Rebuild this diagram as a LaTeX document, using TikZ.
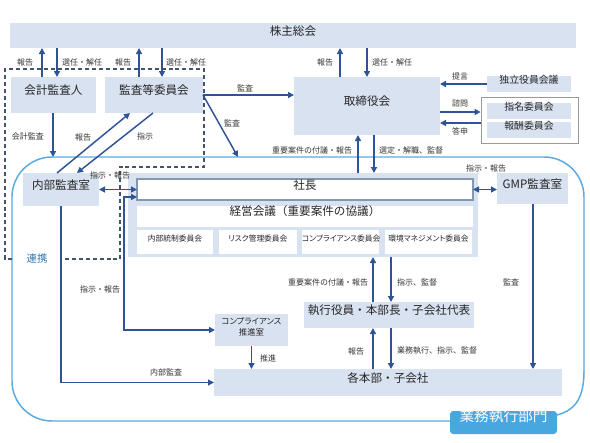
\documentclass[tikz,border=0pt]{standalone}
\usepackage{fontspec}
\setmainfont{Noto Sans CJK JP}
\newfontfamily\kana[RawFeature=+palt]{Noto Sans CJK JP}
\usetikzlibrary{arrows.meta,calc,fit}
\definecolor{boxfill}{HTML}{D9E2F1}
\definecolor{arrowc}{HTML}{2F5496}
\definecolor{txt}{HTML}{262626}
\definecolor{labc}{HTML}{333333}
\definecolor{skyline}{HTML}{5AAAE0}
\definecolor{skylabel}{HTML}{48A7DE}
\definecolor{dashc}{HTML}{44546A}
\definecolor{shachoborder}{HTML}{8497B0}
\definecolor{renkei}{HTML}{2E75B6}
\begin{document}
\begin{tikzpicture}[x=0.75pt,y=-0.75pt,
 box/.style={fill=boxfill,inner sep=0pt,outer sep=0pt,text=txt,font=\fontsize{8.7}{10}\selectfont},
 wbox/.style={box,fill=white},
 cbox/.style={box,fill=white,font=\kana\fontsize{5.8}{6.5}\selectfont},
 lab/.style={inner sep=0pt,text=labc,font=\fontsize{6}{7}\selectfont},
 tip/.tip={Triangle[length=4.5pt,width=4.5pt]},
 arr/.style={draw=arrowc,line width=1.1pt,-tip},
 darr/.style={draw=arrowc,line width=1.1pt,tip-tip},
]
\path[use as bounding box] (0,0) rectangle (590,443);

% execution department outline
\draw[skyline,line width=1.1pt,rounded corners=30pt] (450,421) -- (12,421) -- (12,157) -- (584,157) -- (584,372);
\draw[skyline,line width=1.1pt] (584,371) .. controls (584,402) and (572,411) .. (557,415);

% dashed audit group
\draw[dashc,line width=0.9pt,dash pattern=on 3pt off 2.2pt] (12,259) -- (5,259) -- (5,69) -- (204,69) -- (204,167) -- (120,167) -- (120,259) -- (63,259);
\node[inner sep=0pt,text=renkei,font=\fontsize{7.8}{9}\selectfont] (renkeil) at (37,259) {連携};

% boxes
\node[box,fit={(10,23) (576,48)}] (kabu) {株主総会};
\node[box,fit={(11,77) (96,113)}] (kaikei) {会計監査人};
\node[box,fit={(105,77) (203,113)}] (kansa) {監査等委員会};
\node[box,fit={(294,77) (440,135)}] (tori) {取締役会};
\node[box,fit={(487,76) (571,92)},font=\fontsize{7.4}{8.5}\selectfont] (dokuritsu) {独立役員会議};
\node[draw=gray!80,line width=0.6pt,fill=white,inner sep=0pt,fit={(481,97) (578,143)}] (nomout) {};
\node[box,fit={(487,103) (571,119)},font=\fontsize{7.4}{8.5}\selectfont] (shimei) {指名委員会};
\node[box,fit={(487,122) (571,138)},font=\fontsize{7.4}{8.5}\selectfont] (hoshu) {報酬委員会};
\node[box,fit={(23,173) (99,206)}] (naibu) {内部監査室};
\node[box,fit={(128,173) (478,257)}] (region) {};
\node[wbox,draw=shachoborder,line width=0.8pt,fit={(137,179) (473,200)}] (shacho) {社長};
\node[wbox,fit={(137,206) (473,227)}] (keiei) {経営会議（重要案件の協議）};
\node[cbox,fit={(137,230) (213,254)}] (iinA) {内部統制委員会};
\node[cbox,fit={(219,230) (297,254)}] (iinB) {リスク管理委員会};
\node[cbox,fit={(302,230) (379,254)}] (iinC) {コンプライアンス委員会};
\node[cbox,fit={(385,230) (472,254)}] (iinD) {環境マネジメント委員会};
\node[box,fit={(497,173) (568,204)}] (gmp) {GMP監査室};
\node[box,fit={(215,314) (288,346)},align=center,font=\kana\fontsize{6.3}{8.2}\selectfont] (compl) {コンプライアンス\\推進室};
\node[box,fit={(304,302) (474,328)}] (shikko) {執行役員・本部長・子会社代表};
\node[box,fit={(214,369) (562,396)}] (honbu) {各本部・子会社};
\node[fit={(450,411) (557,434)},fill=skylabel,rounded corners=2.5pt,inner sep=0pt,text=white,font=\fontsize{11}{12}\selectfont] (gyomu) {業務執行部門};

% helper coordinates
\coordinate (X42) at (42,0);
\coordinate (X57) at (57,0);
\coordinate (X139) at (139,0);
\coordinate (X162) at (162,0);
\coordinate (X340) at (340,0);
\coordinate (X367) at (367,0);
\coordinate (X53) at (53,0);
\coordinate (X358) at (358,0);
\coordinate (X374) at (374,0);
\coordinate (X373) at (373,0);
\coordinate (X391) at (391,0);
\coordinate (X533) at (533,0);
\coordinate (X61) at (61,0);
\coordinate (Y112) at (0,112);
\coordinate (Y123) at (0,123);
\coordinate (gtopA) at (53,157);
\coordinate (gtopB) at (238,157);
\coordinate (p1) at (124,197);
\coordinate (p2) at (124,330);

% connectors
\draw[arr] (kaikei.north -| X42) -- (kabu.south -| X42);
\draw[arr] (kabu.south -| X57) -- (kaikei.north -| X57);
\draw[arr] (kansa.north -| X139) -- (kabu.south -| X139);
\draw[arr] (kabu.south -| X162) -- (kansa.north -| X162);
\draw[arr] (tori.north -| X340) -- (kabu.south -| X340);
\draw[arr] (kabu.south -| X367) -- (tori.north -| X367);
\draw[arr] (kansa.east) -- (kansa.east -| tori.west);
\draw[arr] (kansa.east) -- (gtopB);
\draw[arr] (kaikei.south -| X53) -- (gtopA);
\draw[arr] ($(naibu.north west)+(34,0)$) -- ($(kansa.south west)+(25,0)$);
\draw[arr] ($(kansa.south west)+(48,0)$) -- ($(naibu.north west)+(54,0)$);
\draw[arr] (dokuritsu.west) -- (dokuritsu.west -| tori.east);
\draw[arr] (tori.east |- Y112) -- (nomout.west |- Y112);
\draw[arr] (nomout.west |- Y123) -- (tori.east |- Y123);
\draw[arr] (region.north -| X358) -- (tori.south -| X358);
\draw[arr] (tori.south -| X374) -- (region.north -| X374);
\draw[darr] (naibu.east) -- (naibu.east -| shacho.west);
\draw[darr] (shacho.east) -- (shacho.east -| gmp.west);
\draw[arr] (gmp.south -| X533) -- (honbu.north -| X533);
\draw[darr] (shacho.west |- p1) -- (p1) -- (p2) -- (compl.west);
\draw[arr] (compl.south) -- (compl.south |- honbu.north);
\draw[arr] (naibu.south -| X61) |- (honbu.west);
\draw[arr] (shikko.north -| X373) -- (region.south -| X373);
\draw[arr] (region.south -| X391) -- (shikko.north -| X391);
\draw[arr] (honbu.north -| X373) -- (shikko.south -| X373);
\draw[arr] (shikko.south -| X391) -- (honbu.north -| X391);

% labels
\node[lab] (l1) at (25,62) {報告};
\node[lab] (l2) at (82,62) {選任・解任};
\node[lab] (l3) at (123,62) {報告};
\node[lab] (l4) at (186,62) {選任・解任};
\node[lab] (l5) at (325,62) {報告};
\node[lab] (l6) at (392,62) {選任・解任};
\node[lab] (l7) at (245,88) {監査};
\node[lab] (l8) at (232,123) {監査};
\node[lab] (l9) at (28,136) {会計監査};
\node[lab] (l10) at (83,137) {報告};
\node[lab] (l11) at (145,136) {指示};
\node[lab] (l12) at (460,76) {提言};
\node[lab] (l13) at (460,103) {諮問};
\node[lab] (l14) at (460,131) {答申};
\node[lab] (l15) at (312,150) {重要案件の付議・報告};
\node[lab] (l16) at (411,150) {選定・解職、監督};
\node[lab] (l17) at (110,175) {指示・報告};
\node[lab] (l18) at (486,168) {指示・報告};
\node[lab] (l19) at (511,282) {監査};
\node[lab] (l20) at (328,282) {重要案件の付議・報告};
\node[lab] (l21) at (417,282) {指示、監督};
\node[lab] (l22) at (100,289) {指示・報告};
\node[lab] (l23) at (166,372) {内部監査};
\node[lab] (l24) at (268,358) {推進};
\node[lab] (l25) at (356,351) {報告};
\node[lab] (l26) at (437,351) {業務執行、指示、監督};
\end{tikzpicture}
\end{document}
